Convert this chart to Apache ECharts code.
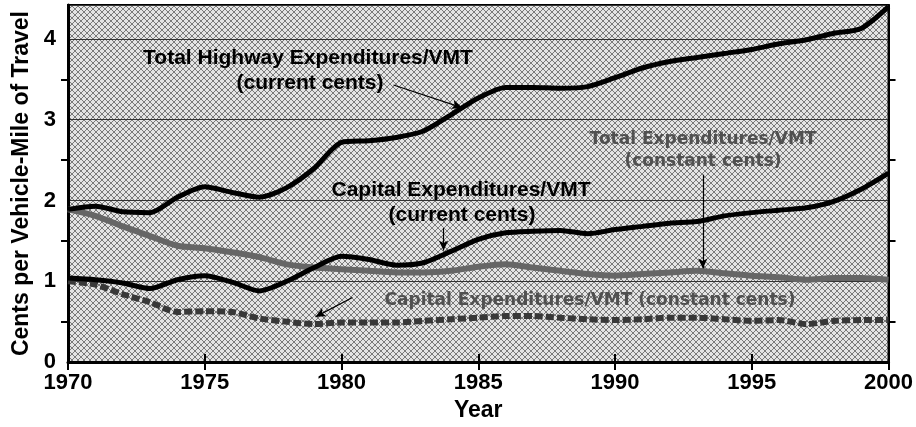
<!DOCTYPE html>
<html>
<head>
<meta charset="utf-8">
<script src="https://cdn.jsdelivr.net/npm/echarts@6/dist/echarts.min.js"></script>
<style>html,body{margin:0;padding:0;background:#fff;}#c{width:916px;height:427px;}</style>
</head>
<body>
<div id="c"></div>
<script>
const years = [1970,1971,1972,1973,1974,1975,1976,1977,1978,1979,1980,1981,1982,1983,1984,1985,1986,1987,1988,1989,1990,1991,1992,1993,1994,1995,1996,1997,1998,1999,2000];
const totalCurrent = [1.89,1.93,1.86,1.85,2.04,2.17,2.10,2.04,2.16,2.40,2.72,2.74,2.78,2.86,3.06,3.27,3.40,3.40,3.39,3.41,3.52,3.64,3.72,3.77,3.82,3.87,3.94,3.99,4.07,4.13,4.40];
const capitalCurrent = [1.04,1.02,0.98,0.91,1.02,1.07,0.99,0.88,1.00,1.17,1.31,1.27,1.20,1.23,1.37,1.52,1.60,1.62,1.63,1.59,1.64,1.68,1.72,1.74,1.81,1.85,1.88,1.91,1.99,2.14,2.34];
const totalConstant = [1.89,1.81,1.68,1.56,1.44,1.41,1.36,1.30,1.21,1.17,1.15,1.13,1.11,1.11,1.13,1.18,1.21,1.17,1.13,1.09,1.07,1.09,1.11,1.13,1.10,1.07,1.05,1.02,1.04,1.04,1.02];
const capitalConstant = [1.00,0.96,0.84,0.74,0.62,0.63,0.62,0.54,0.50,0.47,0.49,0.49,0.49,0.51,0.53,0.55,0.57,0.57,0.55,0.53,0.52,0.53,0.55,0.55,0.53,0.51,0.52,0.47,0.51,0.52,0.52];
const yTicks = [0,1,2,3,4];
const xTicks = [1970,1975,1980,1985,1990,1995,2000];

function pairs(vals){ return years.map((y,i)=>[y, vals[i]]); }

// hatch pattern for the plot background
const pc = document.createElement('canvas');
pc.width = 6; pc.height = 6;
const g = pc.getContext('2d');
g.fillStyle = '#e4e4e4'; g.fillRect(0,0,6,6);
g.strokeStyle = '#7a7a7a'; g.lineWidth = 1;
g.beginPath(); g.moveTo(0,0); g.lineTo(6,6); g.moveTo(6,0); g.lineTo(0,6); g.stroke();

const FONT = '"Liberation Sans", Arial, sans-serif';
const FONT2 = '"DejaVu Sans", sans-serif';

function arrow(x1,y1,x2,y2){
  return [{coord:[x1,y1]},{coord:[x2,y2]}];
}

const chart = echarts.init(document.getElementById('c'), null, {renderer:'canvas'});
chart.setOption({
  animation:false,
  backgroundColor:'#ffffff',
  grid:{left:68,right:22,top:5,bottom:64,show:true,backgroundColor:{image:pc,repeat:'repeat'},borderColor:'#000',borderWidth:2},
  xAxis:[{
    type:'value',min:1970,max:2000,interval:5,
    name:'Year',nameLocation:'middle',nameGap:35,
    nameTextStyle:{fontFamily:FONT,fontWeight:'bold',fontSize:23,color:'#000'},
    axisLine:{show:true,lineStyle:{color:'#000',width:3}},
    axisTick:{show:true,inside:true,length:8,lineStyle:{color:'#000',width:2}},
    axisLabel:{fontFamily:FONT,fontWeight:'bold',fontSize:22,color:'#000',margin:10,
      formatter:v=>xTicks.indexOf(v)>=0?String(v):''},
    splitLine:{show:false}
  },{
    type:'value',min:1970,max:2000,interval:5,position:'top',
    axisLine:{show:true,lineStyle:{color:'#000',width:2}},
    axisTick:{show:true,inside:true,length:8,lineStyle:{color:'#000',width:2}},
    axisLabel:{show:false},splitLine:{show:false}
  }],
  yAxis:[{
    type:'value',min:0,max:4.42,interval:1,
    name:'Cents per Vehicle-Mile of Travel',nameLocation:'middle',nameGap:33,
    nameTextStyle:{fontFamily:FONT,fontWeight:'bold',fontSize:23,color:'#000'},
    axisLine:{show:true,lineStyle:{color:'#000',width:3}},
    axisTick:{show:false},
    minorTick:{show:true,splitNumber:2,length:7,lineStyle:{color:'#000',width:2}},
    axisLabel:{fontFamily:FONT,fontWeight:'bold',fontSize:22,color:'#000',margin:12,
      formatter:v=>yTicks.indexOf(v)>=0?String(v):''},
    splitLine:{show:true,lineStyle:{color:'#333',width:1}}
  },{
    type:'value',min:0,max:4.42,interval:1,position:'right',
    axisLine:{show:true,lineStyle:{color:'#000',width:2}},
    axisTick:{show:false},
    minorTick:{show:true,splitNumber:2,length:7,lineStyle:{color:'#000',width:2}},
    axisLabel:{show:false},splitLine:{show:false}
  }],
  series:[
    {type:'line',name:'Total Constant',data:pairs(totalConstant),showSymbol:false,smooth:0.25,
      lineStyle:{color:'#666',width:6},z:2},
    {type:'line',name:'Capital Constant',data:pairs(capitalConstant),showSymbol:false,smooth:0.25,
      lineStyle:{color:'#383838',width:6,type:[8,3]},z:2},
    {type:'line',name:'Capital Current',data:pairs(capitalCurrent),showSymbol:false,smooth:0.25,
      lineStyle:{color:'#000',width:5},z:3,
      markLine:{silent:true,symbol:['none','arrow'],symbolSize:[7,10],label:{show:false},
        lineStyle:{color:'#000',width:1.2,type:'solid'},
        data:[arrow(1983.73,1.66,1983.73,1.38)]}},
    {type:'line',name:'Total Current',data:pairs(totalCurrent),showSymbol:false,smooth:0.25,
      lineStyle:{color:'#000',width:5},z:3,
      markLine:{silent:true,symbol:['none','arrow'],symbolSize:[7,10],label:{show:false},
        lineStyle:{color:'#000',width:1.2,type:'solid'},
        data:[arrow(1981.9,3.43,1984.4,3.15),arrow(1993.21,2.32,1993.21,1.16),arrow(1980.4,0.80,1979.05,0.56)]}}
  ],
  graphic:[
    {type:'text',x:308,y:58,style:{text:'Total Highway Expenditures/VMT',fill:'#000',font:'bold 21px '+FONT,align:'center',verticalAlign:'middle'},z:10},
    {type:'text',x:310,y:83,style:{text:'(current cents)',fill:'#000',font:'bold 21px '+FONT,align:'center',verticalAlign:'middle'},z:10},
    {type:'text',x:703,y:140,style:{text:'Total Expenditures/VMT',fill:'#505050',font:'bold 17px '+FONT2,align:'center',verticalAlign:'middle'},z:10},
    {type:'text',x:703,y:162,style:{text:'(constant cents)',fill:'#505050',font:'bold 17px '+FONT2,align:'center',verticalAlign:'middle'},z:10},
    {type:'text',x:461,y:190,style:{text:'Capital Expenditures/VMT',fill:'#000',font:'bold 21px '+FONT,align:'center',verticalAlign:'middle'},z:10},
    {type:'text',x:462,y:215,style:{text:'(current cents)',fill:'#000',font:'bold 21px '+FONT,align:'center',verticalAlign:'middle'},z:10},
    {type:'text',x:590,y:301,style:{text:'Capital Expenditures/VMT (constant cents)',fill:'#505050',font:'bold 17px '+FONT2,align:'center',verticalAlign:'middle'},z:10}
  ]
});
</script>
</body>
</html>
